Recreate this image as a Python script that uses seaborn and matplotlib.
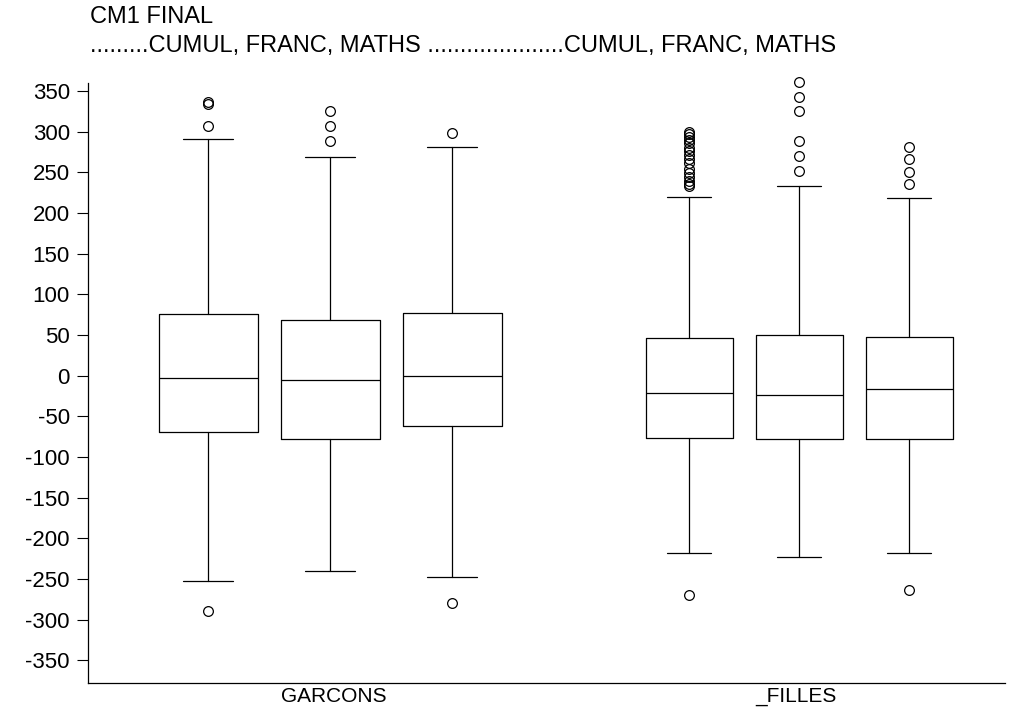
import numpy as np
import matplotlib
matplotlib.use("Agg")
import matplotlib.pyplot as plt
import seaborn as sns

# Données (statistiques des boîtes)
groupes = ["GARCONS", "_FILLES"]
series = ["CUMUL", "FRANC", "MATHS"]

q1 = [-69, -78, -62, -77, -78, -78]
mediane = [-3, -5, 0, -21, -24, -16]
q3 = [76, 69, 77, 46, 50, 48]
moust_bas = [-252, -240, -248, -218, -223, -218]
moust_haut = [291, 269, 281, 220, 233, 219]
atypiques = [
    [307, 334, 337, -289],
    [289, 307, 326],
    [298, -279],
    [233, 236, 240, 244, 249, 254, 262, 266, 272, 276, 280, 286, 290, 294, 297, 300, -270],
    [252, 270, 289, 326, 343, 361],
    [236, 250, 266, 281, -263],
]

yticks = list(range(-350, 351, 50))

# mise en page
positions = [208, 330, 452, 689, 799, 909]
largeurs = [99, 99, 99, 87, 87, 87]
centres_groupes = [334, 796]

sns.set_style("ticks")
plt.rcParams['font.family'] = ['Liberation Sans', 'DejaVu Sans']
plt.rcParams['text.color'] = 'black'
plt.rcParams['xtick.color'] = 'black'
plt.rcParams['ytick.color'] = 'black'

fig = plt.figure(figsize=(10.1, 7.07), dpi=100)
ax = fig.add_axes([88 / 1010, 1 - 683 / 707, (1005 - 88) / 1010, 600 / 707])

stats = []
for i in range(len(positions)):
    stats.append({
        "q1": q1[i], "med": mediane[i], "q3": q3[i],
        "whislo": moust_bas[i], "whishi": moust_haut[i],
        "fliers": atypiques[i],
    })

lw = 0.9
res = ax.bxp(stats, positions=positions, widths=largeurs, showfliers=True,
             boxprops=dict(color="black", linewidth=lw),
             medianprops=dict(color="black", linewidth=lw),
             whiskerprops=dict(color="black", linewidth=lw),
             capprops=dict(color="black", linewidth=lw),
             flierprops=dict(marker="o", markerfacecolor="none", markeredgecolor="black",
                             markersize=7, markeredgewidth=0.9),
             capwidths=[w / 2 for w in largeurs], manage_ticks=False)
for f in res["fliers"]:
    f.set_clip_on(False)

ax.set_xlim(88, 1005)
ax.set_ylim(-378, 360)
ax.set_yticks(yticks)
ax.set_yticklabels([str(t) for t in yticks], fontsize=16)
ax.set_xticks(centres_groupes)
ax.set_xticklabels(groupes, fontsize=15)
ax.tick_params(axis="x", length=0, pad=3)
ax.tick_params(axis="y", length=8, width=0.8, color="black", pad=5)
for s in ["top", "right"]:
    ax.spines[s].set_visible(False)
for s in ["left", "bottom"]:
    ax.spines[s].set_color("black")
    ax.spines[s].set_linewidth(0.9)
ax.grid(False)

# titre
texte_series = ", ".join(series)
fig.text(90 / 1010, 1 - 17 / 707, "CM1 FINAL", fontsize=17, va="center", ha="left")
fig.text(90 / 1010, 1 - 46 / 707,
         "." * 9 + texte_series + " " + "." * 21 + texte_series,
         fontsize=17, va="center", ha="left")

fig.savefig("out.png", dpi=100)
